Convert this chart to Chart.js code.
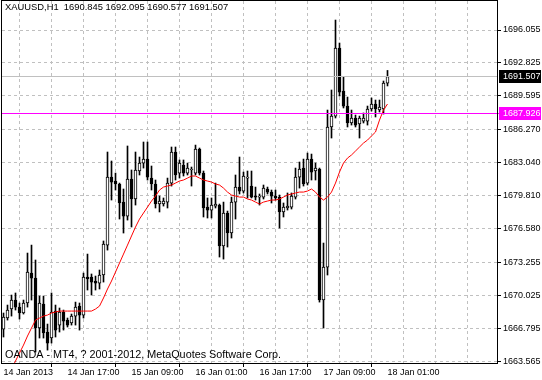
<!DOCTYPE html>
<html>
<head>
<meta charset="utf-8">
<script src="https://cdn.jsdelivr.net/npm/chart.js@4.4.1/dist/chart.umd.min.js"></script>
<style>
  html, body { margin: 0; padding: 0; background: #fff; }
  canvas { display: block; }
</style>
</head>
<body>
<canvas id="xauChart" width="542" height="380"></canvas>
<script>
/* =========================================================
   XAUUSD H1 — candles, moving average, price levels
   ========================================================= */

const symbolTitle = 'XAUUSD,H1';
const footerText = 'OANDA - MT4, ? 2001-2012, MetaQuotes Software Corp.';

// one label every 16 bars, dashed grid every 8 bars
const timeLabels = ['14 Jan 2013', '14 Jan 17:00', '15 Jan 09:00', '16 Jan 01:00',
  '16 Jan 17:00', '17 Jan 09:00', '18 Jan 01:00'];
const labelEvery = 16;
const gridEvery = 8;

const priceTicks = [1696.055, 1692.825, 1689.595, 1686.270, 1683.040, 1679.810,
  1676.580, 1673.255, 1670.025, 1666.795, 1663.565];

const opens = [
  1666.78, 1667.86, 1668.74, 1669.62, 1668.93, 1668.35, 1669.33, 1672.26, 1671.77, 1666.88,
  1669.23, 1666.49, 1665.90, 1668.54, 1667.17, 1668.45, 1667.66, 1667.37, 1668.05, 1669.03,
  1668.15, 1671.87, 1671.87, 1671.48, 1671.28, 1672.07, 1675.00, 1681.66, 1681.27, 1680.98,
  1679.21, 1677.84, 1681.47, 1679.51, 1682.25, 1683.03, 1683.42, 1681.56, 1680.98, 1679.02,
  1679.02, 1679.21, 1681.07, 1684.11, 1682.05, 1682.84, 1682.05, 1682.35, 1682.05, 1684.40,
  1682.05, 1678.72, 1678.43, 1678.82, 1678.92, 1674.91, 1678.14, 1676.18, 1679.21, 1680.68,
  1680.29, 1681.56, 1680.78, 1679.80, 1679.70, 1679.70, 1680.49, 1680.19, 1679.80, 1679.70,
  1678.24, 1678.63, 1678.72, 1679.70, 1681.66, 1682.54, 1681.07, 1683.42, 1682.25, 1682.44,
  1669.62, 1672.85, 1686.56, 1687.63, 1694.29, 1690.08, 1688.61, 1686.95, 1687.44, 1686.85,
  1687.14, 1687.14, 1688.32, 1688.81, 1688.22, 1688.32, 1690.845
];
const highs = [
  1668.35, 1669.13, 1670.11, 1670.31, 1669.33, 1669.62, 1674.22, 1675.00, 1673.54, 1670.01,
  1670.01, 1667.27, 1670.31, 1669.13, 1668.84, 1668.64, 1667.86, 1668.25, 1669.42, 1669.33,
  1672.26, 1674.12, 1672.17, 1671.97, 1672.56, 1675.40, 1684.11, 1683.23, 1682.05, 1681.07,
  1680.49, 1684.70, 1682.35, 1684.11, 1683.62, 1685.09, 1685.09, 1682.74, 1681.37, 1679.80,
  1679.61, 1681.56, 1684.60, 1684.60, 1683.33, 1683.33, 1683.03, 1682.64, 1684.79, 1684.50,
  1682.25, 1679.61, 1679.61, 1681.07, 1679.02, 1679.21, 1678.33, 1679.70, 1681.86, 1683.62,
  1682.15, 1682.25, 1682.25, 1680.68, 1680.00, 1680.88, 1680.68, 1680.39, 1680.39, 1679.90,
  1679.12, 1680.10, 1680.10, 1682.54, 1683.13, 1683.42, 1684.01, 1683.91, 1683.03, 1682.54,
  1675.20, 1688.22, 1690.18, 1697.03, 1694.78, 1691.45, 1689.49, 1688.22, 1687.73, 1687.63,
  1687.93, 1688.61, 1689.40, 1689.20, 1689.20, 1691.06, 1692.095
];
const lows = [
  1666.00, 1667.66, 1668.05, 1668.64, 1667.76, 1668.25, 1668.93, 1669.62, 1664.53, 1665.90,
  1665.90, 1664.72, 1665.41, 1666.00, 1666.49, 1666.68, 1666.98, 1667.17, 1667.17, 1666.68,
  1667.86, 1670.60, 1670.11, 1670.60, 1670.70, 1671.38, 1674.51, 1679.41, 1680.39, 1677.55,
  1676.18, 1677.45, 1676.77, 1678.92, 1681.86, 1682.54, 1681.37, 1680.39, 1678.63, 1678.24,
  1678.82, 1678.63, 1680.78, 1681.37, 1681.56, 1681.76, 1681.86, 1680.78, 1681.86, 1681.86,
  1677.75, 1677.65, 1677.65, 1678.63, 1673.83, 1673.63, 1674.81, 1675.69, 1677.55, 1680.00,
  1680.10, 1679.61, 1679.61, 1679.41, 1678.92, 1679.51, 1680.00, 1679.12, 1679.41, 1676.67,
  1677.75, 1678.43, 1678.53, 1679.51, 1680.58, 1680.78, 1680.88, 1681.37, 1681.37, 1669.42,
  1666.88, 1672.07, 1685.48, 1687.44, 1689.59, 1688.42, 1686.56, 1686.75, 1686.56, 1685.48,
  1686.95, 1686.75, 1688.12, 1687.54, 1688.03, 1687.83, 1690.577
];
const closes = [
  1667.96, 1668.64, 1669.62, 1668.93, 1668.35, 1669.33, 1672.36, 1671.77, 1666.88, 1669.33,
  1666.39, 1665.41, 1668.45, 1666.68, 1668.45, 1667.56, 1667.17, 1668.05, 1668.93, 1668.15,
  1671.87, 1671.68, 1671.38, 1671.28, 1672.07, 1675.10, 1681.66, 1681.17, 1680.98, 1679.12,
  1677.84, 1681.47, 1679.51, 1682.35, 1683.03, 1683.42, 1681.66, 1680.98, 1679.02, 1679.31,
  1679.31, 1681.07, 1684.11, 1681.86, 1683.03, 1682.05, 1682.54, 1682.44, 1684.40, 1682.05,
  1678.63, 1678.43, 1678.92, 1679.02, 1674.91, 1678.14, 1676.18, 1679.21, 1680.68, 1680.29,
  1681.76, 1681.66, 1679.70, 1679.70, 1679.80, 1680.58, 1680.19, 1679.80, 1679.61, 1678.24,
  1678.72, 1678.82, 1679.80, 1681.66, 1682.44, 1680.98, 1683.42, 1682.15, 1682.54, 1669.62,
  1672.85, 1686.56, 1687.63, 1694.29, 1689.98, 1688.61, 1686.95, 1687.44, 1686.75, 1687.44,
  1687.44, 1688.32, 1688.81, 1688.32, 1688.51, 1690.86, 1691.507
];
// red moving average
const maValues = [
  1661.30, 1662.08, 1662.87, 1663.65, 1664.43, 1665.21, 1666.10, 1666.88, 1667.66, 1667.86,
  1668.05, 1668.15, 1668.35, 1668.45, 1668.54, 1668.54, 1668.54, 1668.54, 1668.54, 1668.54,
  1668.54, 1668.54, 1668.54, 1668.74, 1669.03, 1669.82, 1670.70, 1671.48, 1672.36, 1673.24,
  1674.12, 1675.00, 1675.89, 1676.77, 1677.55, 1678.14, 1678.72, 1679.31, 1679.80, 1680.39,
  1680.68, 1680.78, 1680.88, 1681.07, 1681.27, 1681.37, 1681.56, 1681.76, 1681.76, 1681.56,
  1681.37, 1681.27, 1681.17, 1680.98, 1680.88, 1680.58, 1680.19, 1679.90, 1679.80, 1679.70,
  1679.70, 1679.51, 1679.41, 1679.21, 1679.02, 1679.21, 1679.31, 1679.41, 1679.41, 1679.51,
  1679.70, 1679.90, 1680.00, 1680.10, 1680.19, 1680.19, 1680.29, 1680.49, 1680.19, 1679.70,
  1679.41, 1679.70, 1680.19, 1681.07, 1682.15, 1683.03, 1683.52, 1683.82, 1684.21, 1684.60,
  1684.99, 1685.28, 1685.68, 1686.07, 1687.24, 1688.22, 1688.81
];

const bidPrice = 1691.507;
const levelPrice = 1687.926;

const FONT = '"Liberation Sans", Arial, sans-serif';
const GRID = '#c0c0c0';
const MAGENTA = 'rgb(255, 0, 255)';
const isLabelTick = v => v % labelEvery === 0 && v / labelEvery < timeLabels.length;

// frame, level lines, header, footer and price boxes, MT4 style
const mt4Overlay = {
  id: 'mt4Overlay',
  afterDraw(chart) {
    const { ctx, chartArea: a, scales: { y } } = chart;
    const last = opens.length - 1;
    ctx.save();
    ctx.globalAlpha = 1;
    ctx.globalCompositeOperation = 'source-over';
    ctx.setLineDash([]);

    // bid line (grey) and horizontal level (magenta)
    const yb = Math.round(y.getPixelForValue(bidPrice));
    ctx.fillStyle = GRID;
    ctx.fillRect(a.left, yb, a.right - a.left, 1);
    const yl = Math.round(y.getPixelForValue(levelPrice));
    ctx.fillStyle = MAGENTA;
    ctx.fillRect(a.left, yl, a.right - a.left + 2, 1);

    ctx.strokeStyle = '#000';
    ctx.lineWidth = 1;
    ctx.strokeRect(a.left - 0.5, a.top - 0.5, a.right - a.left + 1, a.bottom - a.top + 1);

    ctx.fillStyle = '#000';
    ctx.font = `9.4px ${FONT}`;
    ctx.textBaseline = 'alphabetic';
    ctx.fillText(`${symbolTitle}  ${opens[last].toFixed(3)} ${highs[last].toFixed(3)} ${lows[last].toFixed(3)} ${closes[last].toFixed(3)}`, 5, 10);
    ctx.font = `10.8px ${FONT}`;
    ctx.fillText(footerText, 5, 358);

    // price boxes on the axis
    ctx.font = `9px ${FONT}`;
    ctx.textBaseline = 'middle';
    [[bidPrice, '#000'], [levelPrice, MAGENTA]].forEach(([p, bg]) => {
      const py = Math.round(y.getPixelForValue(p));
      ctx.fillStyle = bg;
      ctx.fillRect(a.right + 2, py - 6, 542 - a.right - 3, 13);
      ctx.fillStyle = '#fff';
      ctx.fillText(p.toFixed(3), a.right + 6, py + 1);
    });
    ctx.restore();
  }
};

new Chart(document.getElementById('xauChart').getContext('2d'), {
  type: 'bar',
  data: {
    datasets: [
      {
        type: 'line',
        label: 'MA',
        data: maValues.map((v, i) => ({ x: i, y: v })),
        borderColor: '#ff0000',
        borderWidth: 1,
        pointRadius: 0,
        tension: 0,
        order: 0
      },
      {
        label: 'Body',
        data: opens.map((o, i) => ({ x: i, y: [o, closes[i]] })),
        backgroundColor: closes.map((c, i) => c >= opens[i] ? '#ffffff' : '#000000'),
        borderColor: '#000',
        borderWidth: 1,
        borderSkipped: false,
        barThickness: 3,
        minBarLength: 1,
        grouped: false,
        order: 1
      },
      {
        label: 'Wick',
        data: lows.map((l, i) => ({ x: i, y: [l, highs[i]] })),
        backgroundColor: '#000',
        barThickness: 1,
        grouped: false,
        order: 2
      }
    ]
  },
  options: {
    responsive: false,
    animation: false,
    events: [],
    layout: { padding: { left: 2, top: 1, right: 0, bottom: 0 } },
    plugins: { legend: { display: false }, tooltip: { enabled: false } },
    scales: {
      x: {
        type: 'linear',
        offset: false,
        min: -0.375,
        max: 123.375,
        afterBuildTicks: s => {
          const t = [];
          for (let v = 0; v <= s.max; v += gridEvery) t.push({ value: v });
          s.ticks = t;
        },
        afterFit: s => { s.height = 17; s.paddingLeft = 0; s.paddingRight = 0; },
        grid: {
          color: c => (c.tick && c.tick.value === 0) ? 'rgba(0,0,0,0)' : GRID,
          tickColor: c => (c.tick && isLabelTick(c.tick.value)) ? '#000' : 'rgba(0,0,0,0)',
          tickLength: 4,
          tickBorderDash: []
        },
        border: { display: false, dash: [3, 3] },
        ticks: {
          autoSkip: false, maxRotation: 0, align: 'start', padding: 0,
          color: '#000', font: { family: FONT, size: 9 },
          callback: v => isLabelTick(v) ? timeLabels[v / labelEvery] : ''
        }
      },
      y: {
        position: 'right',
        min: 1663.457,
        max: 1698.894,
        afterBuildTicks: s => { s.ticks = priceTicks.map(v => ({ value: v })); },
        afterFit: s => { s.width = 45; s.paddingTop = 0; s.paddingBottom = 0; },
        grid: { color: GRID, tickColor: '#000', tickLength: 4, tickBorderDash: [] },
        border: { display: false, dash: [3, 3] },
        ticks: {
          padding: 2, color: '#000', font: { family: FONT, size: 9 },
          callback: v => v.toFixed(3)
        }
      }
    }
  },
  plugins: [mt4Overlay]
});
</script>
</body>
</html>
